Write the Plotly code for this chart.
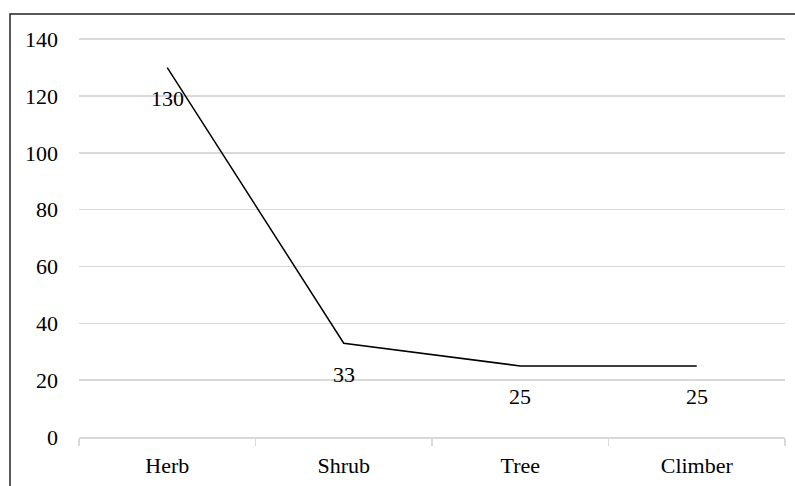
import plotly.graph_objects as go

categories = ["Herb", "Shrub", "Tree", "Climber"]
values = [130, 33, 25, 25]
y_ticks = [0, 20, 40, 60, 80, 100, 120, 140]

FONT = "Liberation Serif"
SIZE = 22

fig = go.Figure()
fig.add_trace(go.Scatter(
    x=categories, y=values, mode="lines",
    line=dict(color="black", width=1.5),
    hoverinfo="skip", showlegend=False,
))

for c, v in zip(categories, values):
    fig.add_annotation(x=c, y=v, text=str(v), showarrow=False,
                       yshift=-31, xanchor="center", yanchor="middle",
                       font=dict(family=FONT, size=SIZE, color="black"))

# outer frame (top and left edges visible)
fig.add_shape(type="rect", xref="paper", yref="paper",
              x0=(10 - 79) / 706, x1=1.2, y0=-0.3, y1=1 + 24 / 399,
              line=dict(color="#222222", width=1.5), layer="above")

fig.update_layout(
    width=795, height=486,
    margin=dict(l=79, r=10, t=38, b=49, autoexpand=False),
    paper_bgcolor="white", plot_bgcolor="white",
    font=dict(family=FONT, size=SIZE, color="black"),
    xaxis=dict(
        type="category", tickson="boundaries", ticks="outside", ticklen=7,
        tickcolor="#d9d9d9", tickwidth=1.5, automargin=False,
        showline=True, linecolor="#d9d9d9", linewidth=1.5,
        showgrid=False, zeroline=False, ticklabelstandoff=8,
        range=[-0.5, 3.5], fixedrange=True,
    ),
    yaxis=dict(
        range=[0, 140.4], tickvals=y_ticks, showgrid=True, automargin=False,
        gridcolor="#d9d9d9", gridwidth=1.5, zeroline=False, showline=False,
        ticks="", ticklabelstandoff=20, fixedrange=True,
    ),
)

fig.write_html("out.html", config={"displayModeBar": False, "staticPlot": True},
               post_script="document.body.style.margin='0';document.body.style.overflow='hidden';")
